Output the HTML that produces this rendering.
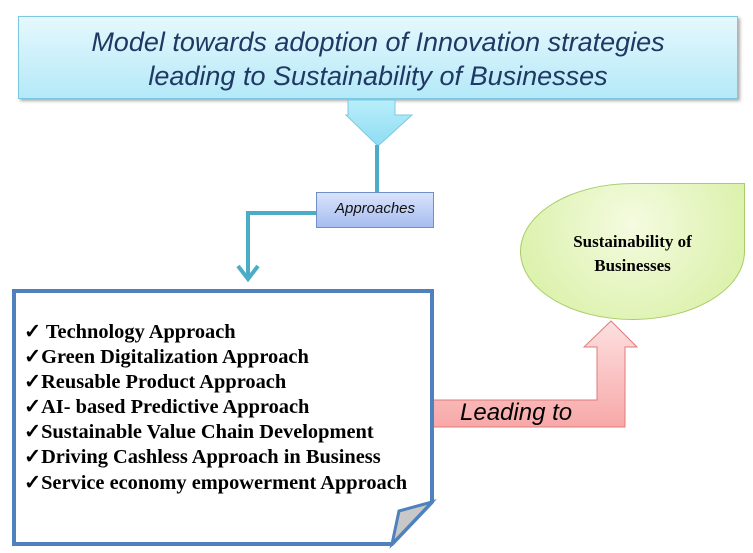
<!DOCTYPE html>
<html><head><meta charset="utf-8"><style>
body{margin:0;width:753px;height:553px;background:#fff;position:relative;overflow:hidden;font-family:"Liberation Serif",serif}
.abs{position:absolute}
#title{left:18px;top:16px;width:720px;height:83px;border:1px solid #7cc8e0;background:linear-gradient(#e6f8fd,#b4e9f8);box-shadow:2px 2px 3px #aaa;text-align:center;color:#1f3864;font-family:"Liberation Sans",sans-serif;font-style:italic;font-size:27px;line-height:34px;padding-top:8px;box-sizing:border-box}
#appr{left:316px;top:192px;width:118px;height:36px;border:1px solid #6f8fc9;background:linear-gradient(#d9e3fb,#a7bdf0);box-sizing:border-box;text-align:center;font-family:"Liberation Sans",sans-serif;font-style:italic;font-size:15px;line-height:32px;color:#111}
#leaf{left:520px;top:183px;width:225px;height:137px;border-radius:50% 0 50% 50%;background:radial-gradient(circle at 50% 30%,#f4fbe0,#d6ef9f);border:1px solid #a9cc6a;box-sizing:border-box}
.lt{font-weight:bold;font-size:17px;text-align:center;left:535px;width:195px;top:230px;line-height:24px}
.list{left:24px;top:320px;font-weight:bold;font-size:20.4px;line-height:25.1px;color:#000;white-space:nowrap}
</style></head><body>
<div id="title" class="abs">Model towards adoption of Innovation strategies<br>leading to Sustainability of Businesses</div>
<svg class="abs" style="left:0;top:0" width="753" height="553">
 <defs><linearGradient id="r" x1="0" y1="0" x2="0" y2="1"><stop offset="0" stop-color="#fde0e0"/><stop offset="1" stop-color="#f8a8a8"/></linearGradient>
 <linearGradient id="b" x1="0" y1="0" x2="0" y2="1"><stop offset="0" stop-color="#b8eefb"/><stop offset="1" stop-color="#8fdcf2"/></linearGradient></defs>
 <polygon points="348,100 395,100 395,115 412,115 378,146 346,115 348,115" fill="url(#b)" stroke="#7cc8e0"/>
 <line x1="377" y1="145" x2="377" y2="193" stroke="#4bacc6" stroke-width="4"/>
 <polyline points="316,213 248,213 248,276" fill="none" stroke="#4bacc6" stroke-width="4"/>
 <polyline points="238,266 248,279 258,266" fill="none" stroke="#4bacc6" stroke-width="4"/>
 <polygon points="433,400 597,400 597,347 584,347 611,321 637,347 625,347 625,427 433,427" fill="url(#r)" stroke="#e07b7b"/>
 <text x="460" y="420" font-family="Liberation Sans,sans-serif" font-style="italic" font-size="24" fill="#000">Leading to</text>
 <polygon points="14,291 432,291 432,502 392,544 14,544" fill="#fff" stroke="#4f81bd" stroke-width="4"/>
 <polygon points="432,502 399,511 392,544" fill="#c8c8c8" stroke="#4f81bd" stroke-width="3"/>
</svg>
<div id="appr" class="abs">Approaches</div>
<div id="leaf" class="abs"></div>
<div class="abs lt">Sustainability of<br>Businesses</div>
<div class="abs list">✓ Technology Approach<br>✓Green Digitalization Approach<br>✓Reusable Product Approach<br>✓AI- based Predictive Approach<br>✓Sustainable Value Chain Development<br>✓Driving Cashless Approach in Business<br>✓Service economy empowerment Approach</div>
</body></html>
